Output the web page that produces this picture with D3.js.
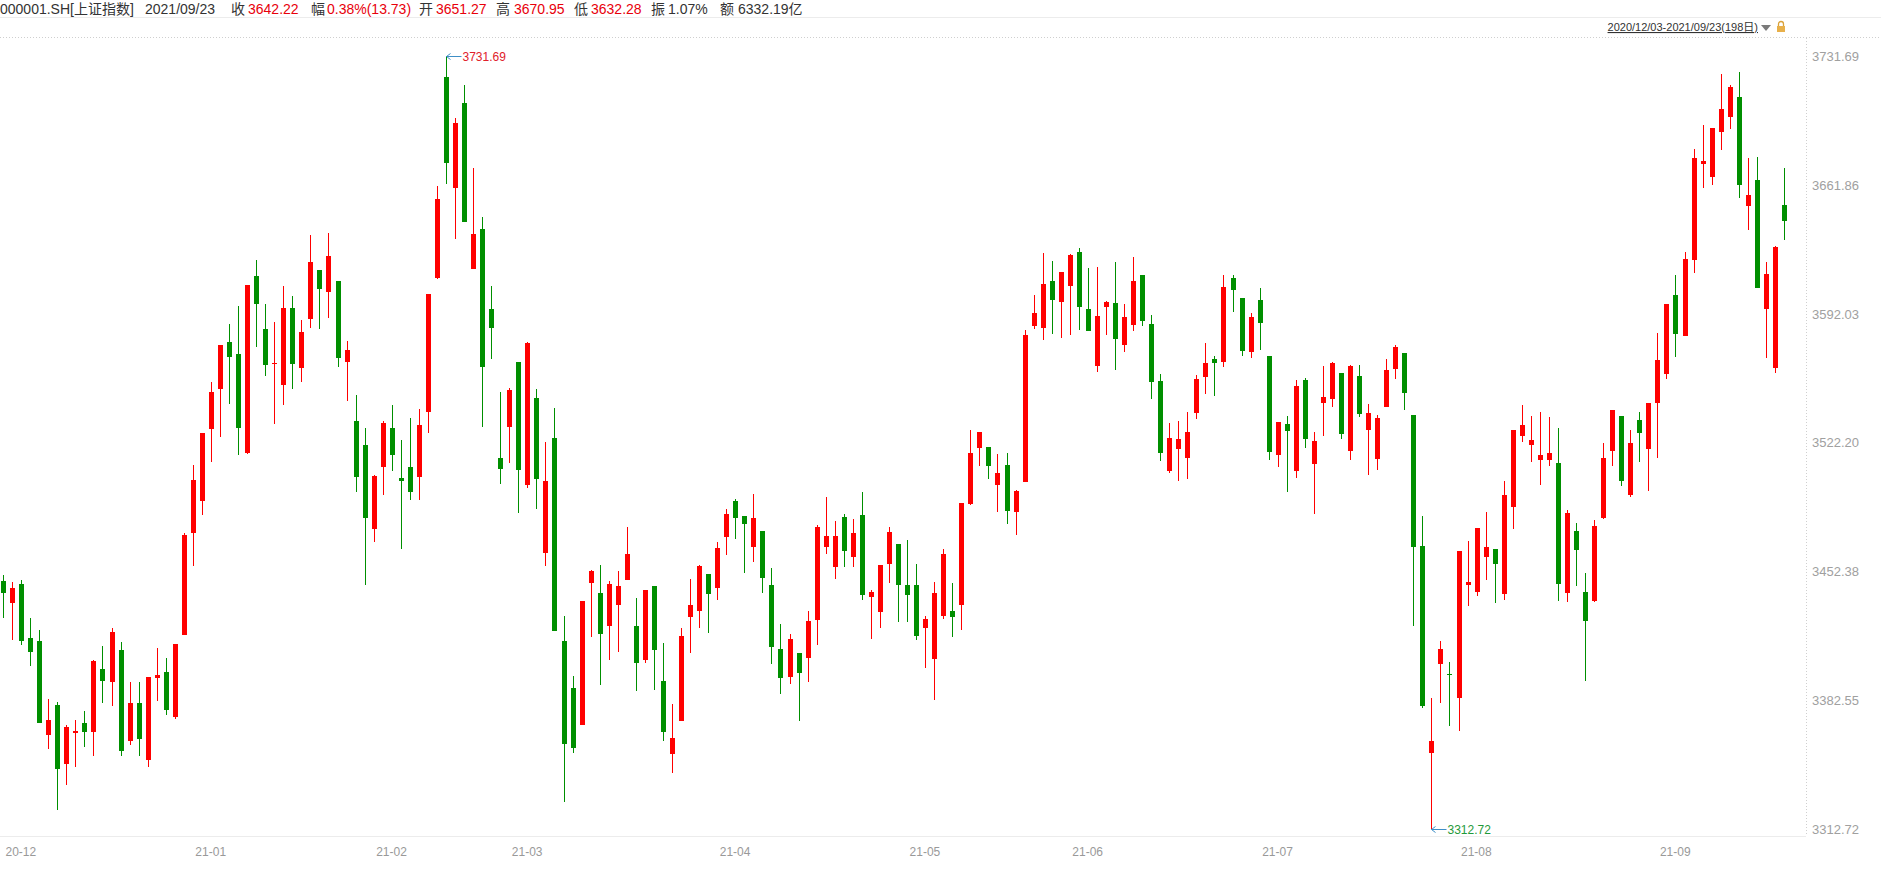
<!DOCTYPE html>
<html>
<head>
<meta charset="utf-8">
<script src="https://cdn.jsdelivr.net/npm/d3@7"></script>
<style>
  html, body { margin: 0; padding: 0; background: #fff; }
  svg { display: block; font-family: "Microsoft YaHei", Arial, "Liberation Sans", "Noto Sans CJK SC", sans-serif; }
</style>
</head>
<body>
<svg id="chart" width="1881" height="870"></svg>
<script>
// daily candles 2020/12/03 - 2021/09/23, 000001.SH
const opens = [
  3447.2, 3435.5, 3445.6, 3416.3, 3414.7, 3363.9, 3380.0, 3348.2, 3365.0, 3370.2,
  3365.5, 3399.5, 3392.6, 3409.8, 3360.6, 3381.0, 3350.3, 3394.8, 3397.9, 3373.6,
  3418.1, 3473.4, 3490.8, 3529.6, 3551.3, 3576.8, 3570.3, 3516.8, 3612.6, 3583.9,
  3565.3, 3553.7, 3595.2, 3562.9, 3589.5, 3615.9, 3604.1, 3609.9, 3566.1, 3534.0,
  3521.0, 3475.6, 3509.2, 3530.2, 3502.9, 3508.9, 3503.7, 3538.9, 3611.6, 3720.6,
  3660.3, 3706.5, 3616.5, 3638.2, 3594.9, 3513.8, 3530.8, 3566.2, 3499.5, 3546.2,
  3462.5, 3524.5, 3414.8, 3389.2, 3368.9, 3446.3, 3440.7, 3423.0, 3434.2, 3447.8,
  3422.8, 3404.4, 3444.5, 3393.0, 3353.4, 3371.5, 3427.7, 3430.9, 3451.0, 3443.4,
  3471.1, 3490.6, 3482.5, 3465.6, 3474.3, 3445.1, 3410.3, 3395.2, 3408.2, 3405.6,
  3426.2, 3465.8, 3455.0, 3481.9, 3460.4, 3483.0, 3438.7, 3430.6, 3456.6, 3467.3,
  3445.1, 3445.1, 3421.9, 3405.1, 3428.4, 3430.9, 3434.4, 3489.0, 3519.5, 3519.9,
  3499.3, 3510.1, 3484.8, 3501.1, 3585.7, 3584.6, 3609.9, 3598.5, 3607.2, 3625.6,
  3594.7, 3563.8, 3595.8, 3598.0, 3575.2, 3586.0, 3613.2, 3586.6, 3555.7, 3507.0,
  3518.9, 3514.1, 3538.5, 3557.8, 3567.6, 3566.1, 3611.5, 3600.7, 3571.6, 3599.6,
  3569.2, 3515.7, 3532.3, 3507.0, 3556.2, 3510.8, 3543.9, 3546.1, 3560.0, 3517.9,
  3558.4, 3529.3, 3513.5, 3541.7, 3562.4, 3570.85, 3537.2, 3466.2, 3354.1, 3402.4,
  3396.8, 3383.9, 3445.2, 3441.4, 3460.4, 3464.6, 3440.3, 3487.5, 3526.0, 3521.0,
  3512.8, 3512.8, 3511.2, 3440.9, 3474.3, 3441.2, 3436.2, 3481.6, 3517.6, 3536.9,
  3493.6, 3534.6, 3518.7, 3543.5, 3559.3, 3602.4, 3579.8, 3621.1, 3673.1, 3666.4,
  3690.9, 3698.9, 3709.5, 3650.7, 3664.8, 3594.5, 3562.6, 3651.27
];
const highs = [
  3450.5, 3446.7, 3447.8, 3427.2, 3420.6, 3383.2, 3381.6, 3369.1, 3371.8, 3376.7,
  3404.4, 3412.0, 3421.5, 3414.1, 3392.4, 3392.4, 3395.2, 3410.9, 3405.5, 3413.0,
  3473.2, 3510.1, 3527.6, 3555.1, 3575.2, 3586.6, 3596.3, 3607.7, 3621.3, 3597.4,
  3587.7, 3607.2, 3601.8, 3588.7, 3634.8, 3615.9, 3635.9, 3609.9, 3577.4, 3548.1,
  3530.2, 3504.7, 3534.0, 3542.7, 3523.5, 3535.5, 3540.7, 3603.0, 3661.6, 3731.69,
  3698.1, 3716.1, 3671.3, 3644.4, 3607.4, 3549.5, 3551.6, 3566.2, 3576.7, 3551.1,
  3522.4, 3541.2, 3428.0, 3395.7, 3436.4, 3453.1, 3455.9, 3447.2, 3452.6, 3476.5,
  3438.0, 3442.3, 3444.5, 3413.6, 3380.5, 3421.7, 3448.3, 3455.9, 3451.0, 3468.4,
  3486.3, 3491.7, 3482.5, 3494.4, 3474.3, 3454.3, 3423.9, 3418.5, 3408.2, 3430.9,
  3477.6, 3492.8, 3479.8, 3483.5, 3480.8, 3495.5, 3442.3, 3455.9, 3476.5, 3467.3,
  3469.5, 3456.4, 3428.4, 3446.7, 3464.6, 3446.1, 3489.5, 3529.1, 3528.0, 3519.9,
  3516.1, 3516.6, 3496.5, 3583.3, 3602.3, 3625.1, 3620.7, 3614.8, 3624.5, 3627.8,
  3617.0, 3617.5, 3599.0, 3620.2, 3597.4, 3622.9, 3613.2, 3591.5, 3559.5, 3532.9,
  3534.0, 3538.9, 3558.9, 3576.3, 3569.2, 3613.1, 3613.1, 3600.7, 3592.5, 3606.1,
  3569.2, 3533.4, 3536.7, 3556.2, 3557.3, 3528.0, 3563.8, 3566.0, 3560.0, 3564.3,
  3564.3, 3543.2, 3537.2, 3567.6, 3575.2, 3570.85, 3537.2, 3482.4, 3383.8, 3414.7,
  3403.3, 3463.5, 3468.9, 3475.9, 3484.6, 3464.6, 3501.4, 3529.1, 3542.6, 3536.7,
  3538.9, 3536.1, 3530.2, 3485.7, 3478.7, 3451.5, 3480.3, 3521.8, 3540.0, 3536.9,
  3529.3, 3538.6, 3543.9, 3581.9, 3597.2, 3613.2, 3625.6, 3681.5, 3694.4, 3692.7,
  3722.2, 3716.1, 3723.2, 3676.6, 3677.2, 3620.2, 3628.9, 3670.95
];
const lows = [
  3427.3, 3415.2, 3412.7, 3401.1, 3370.4, 3356.3, 3323.0, 3336.8, 3346.5, 3357.4,
  3352.5, 3381.2, 3379.6, 3352.5, 3358.5, 3352.5, 3346.5, 3382.3, 3374.7, 3372.6,
  3418.1, 3455.5, 3483.0, 3511.9, 3525.5, 3543.4, 3515.7, 3516.3, 3574.3, 3558.6,
  3532.5, 3542.8, 3551.5, 3555.3, 3584.6, 3583.9, 3590.0, 3563.4, 3545.0, 3495.7,
  3445.2, 3468.6, 3494.0, 3507.0, 3464.8, 3491.4, 3490.9, 3527.4, 3611.1, 3662.7,
  3632.7, 3641.8, 3616.5, 3530.5, 3567.5, 3500.0, 3511.2, 3484.1, 3497.9, 3486.5,
  3455.2, 3420.2, 3327.2, 3353.8, 3368.9, 3416.6, 3391.0, 3404.4, 3408.7, 3447.8,
  3387.6, 3402.7, 3388.1, 3360.4, 3343.1, 3371.5, 3408.2, 3421.7, 3419.0, 3436.9,
  3461.3, 3470.0, 3451.6, 3457.5, 3440.7, 3402.2, 3385.9, 3391.4, 3371.5, 3392.6,
  3412.7, 3462.0, 3448.5, 3455.0, 3455.0, 3437.1, 3415.9, 3421.9, 3446.3, 3425.2,
  3425.2, 3415.4, 3400.2, 3382.9, 3426.8, 3417.0, 3420.8, 3488.4, 3509.8, 3502.7,
  3484.8, 3478.3, 3472.3, 3501.1, 3584.0, 3577.9, 3581.2, 3579.0, 3580.6, 3583.3,
  3582.8, 3560.5, 3580.6, 3561.6, 3571.4, 3582.8, 3585.5, 3546.1, 3512.5, 3506.0,
  3501.6, 3502.7, 3535.2, 3548.8, 3547.7, 3563.4, 3593.3, 3569.4, 3568.3, 3572.5,
  3513.0, 3509.2, 3495.6, 3503.2, 3519.5, 3483.7, 3526.0, 3541.7, 3524.4, 3513.0,
  3536.3, 3504.9, 3507.6, 3541.7, 3556.9, 3540.1, 3423.0, 3378.5, 3312.72, 3381.2,
  3368.8, 3366.0, 3433.8, 3439.2, 3447.9, 3435.4, 3437.1, 3475.6, 3522.8, 3511.9,
  3499.3, 3509.6, 3436.5, 3436.0, 3444.7, 3393.2, 3435.6, 3480.8, 3509.3, 3498.6,
  3492.6, 3512.0, 3495.9, 3514.1, 3557.0, 3568.8, 3579.8, 3614.4, 3660.4, 3661.7,
  3680.9, 3692.3, 3655.0, 3637.8, 3606.3, 3568.4, 3559.9, 3632.28
];
const closes = [
  3440.9, 3443.4, 3414.9, 3408.9, 3370.4, 3371.8, 3345.4, 3368.0, 3365.9, 3365.5,
  3403.8, 3393.2, 3419.6, 3355.2, 3381.0, 3361.7, 3395.2, 3396.2, 3377.4, 3413.0,
  3472.2, 3502.0, 3527.6, 3549.7, 3575.2, 3568.7, 3530.4, 3607.7, 3597.6, 3564.5,
  3565.6, 3595.2, 3565.1, 3582.2, 3620.2, 3605.7, 3623.4, 3568.3, 3572.5, 3503.8,
  3481.6, 3504.1, 3532.9, 3515.7, 3501.3, 3495.6, 3531.6, 3603.0, 3654.6, 3673.9,
  3695.5, 3641.8, 3635.6, 3563.1, 3584.5, 3508.1, 3550.6, 3507.6, 3576.4, 3502.6,
  3501.3, 3420.2, 3358.7, 3356.9, 3436.4, 3452.6, 3418.6, 3445.6, 3444.5, 3461.9,
  3402.7, 3442.3, 3409.8, 3365.5, 3362.1, 3417.4, 3434.2, 3455.3, 3440.2, 3465.1,
  3483.5, 3481.4, 3478.1, 3481.4, 3448.8, 3411.4, 3394.6, 3415.8, 3397.5, 3425.5,
  3476.5, 3471.6, 3471.6, 3463.7, 3473.2, 3439.8, 3441.3, 3455.9, 3473.8, 3445.2,
  3439.8, 3417.6, 3426.6, 3440.7, 3461.9, 3427.9, 3489.5, 3516.6, 3528.0, 3509.8,
  3505.8, 3485.3, 3496.0, 3580.6, 3592.5, 3608.3, 3599.6, 3614.8, 3624.0, 3595.8,
  3582.8, 3590.9, 3598.5, 3578.4, 3590.4, 3609.9, 3588.2, 3555.3, 3516.6, 3524.7,
  3524.2, 3528.0, 3556.7, 3565.4, 3565.4, 3606.6, 3605.0, 3572.1, 3590.4, 3587.3,
  3517.3, 3533.4, 3528.7, 3552.9, 3524.4, 3523.1, 3547.0, 3565.4, 3527.1, 3563.8,
  3538.0, 3538.3, 3535.6, 3561.6, 3574.1, 3549.3, 3465.8, 3379.6, 3360.4, 3410.3,
  3396.0, 3463.5, 3446.7, 3475.9, 3465.6, 3456.6, 3493.8, 3529.1, 3531.8, 3523.7,
  3515.5, 3516.6, 3445.8, 3484.1, 3464.2, 3425.7, 3476.8, 3514.1, 3540.0, 3501.3,
  3521.8, 3527.4, 3543.9, 3566.8, 3597.2, 3580.9, 3621.9, 3676.6, 3674.9, 3692.7,
  3703.1, 3715.1, 3662.1, 3656.3, 3606.3, 3613.8, 3628.3, 3642.22
];

// first trading day of each month and its label
const monthStarts = [0, 21, 41, 56, 79, 100, 118, 139, 161, 183];
const monthLabels = ["20-12", "21-01", "21-02", "21-03", "21-04", "21-05", "21-06", "21-07", "21-08", "21-09"];

const yTickValues = [3731.69, 3661.86, 3592.03, 3522.20, 3452.38, 3382.55, 3312.72];

const headerItems = [
  { text: "000001.SH[上证指数]", x: 0, color: "#333" },
  { text: "2021/09/23", x: 145, color: "#333" },
  { text: "收", x: 231, color: "#333" },
  { text: "3642.22", x: 248, color: "#e8000b" },
  { text: "幅", x: 311, color: "#333" },
  { text: "0.38%(13.73)", x: 327, color: "#e8000b" },
  { text: "开", x: 419, color: "#333" },
  { text: "3651.27", x: 436, color: "#e8000b" },
  { text: "高", x: 496, color: "#333" },
  { text: "3670.95", x: 514, color: "#e8000b" },
  { text: "低", x: 574, color: "#333" },
  { text: "3632.28", x: 591, color: "#e8000b" },
  { text: "振", x: 651, color: "#333" },
  { text: "1.07%", x: 668, color: "#333" },
  { text: "额", x: 720, color: "#333" },
  { text: "6332.19亿", x: 738, color: "#333" }
];
const rangeText = "2020/12/03-2021/09/23(198日)";

const cfg = {
  width: 1881,
  height: 870,
  plotLeft: -1,
  plotRight: 1789,
  plotTop: 56.4,
  plotBottom: 829,
  axisX: 1806,
  bodyWidth: 5,
  up: "#ff0000",
  down: "#008f00"
};

const svg = d3.select("#chart");
const n = closes.length;
const idx = d3.range(n);

const x = d3.scaleBand().domain(idx).range([cfg.plotLeft, cfg.plotRight]);
const y = d3.scaleLinear().domain([d3.min(lows), d3.max(highs)]).range([cfg.plotBottom, cfg.plotTop]);

svg.append("rect").attr("width", cfg.width).attr("height", cfg.height).attr("fill", "#fff");

// header
svg.append("g").selectAll("text")
  .data(headerItems)
  .join("text")
  .attr("x", d => d.x)
  .attr("y", 13.5)
  .attr("font-size", 14)
  .attr("fill", d => d.color)
  .text(d => d.text);

svg.append("line")
  .attr("x1", 0).attr("x2", cfg.width)
  .attr("y1", 17.5).attr("y2", 17.5)
  .attr("stroke", "#ececec");

svg.append("text")
  .attr("x", 1758).attr("y", 31)
  .attr("text-anchor", "end")
  .attr("font-size", 11)
  .attr("fill", "#333")
  .attr("text-decoration", "underline")
  .text(rangeText);

svg.append("path")
  .attr("d", "M1761,25 L1771,25 L1766,31 Z")
  .attr("fill", "#7a7a7a");

// lock icon
const lock = svg.append("g").attr("transform", "translate(1776,21)");
lock.append("path")
  .attr("d", "M2.5,5 V3 a2.5,2.5 0 0 1 5,0 V5")
  .attr("fill", "none").attr("stroke", "#d9a23a").attr("stroke-width", 1.3);
lock.append("rect")
  .attr("x", 1).attr("y", 5).attr("width", 8).attr("height", 6)
  .attr("fill", "#e8b04a");

svg.append("line")
  .attr("x1", 0).attr("x2", cfg.width)
  .attr("y1", 37.5).attr("y2", 37.5)
  .attr("stroke", "#cfcfcf")
  .attr("stroke-dasharray", "1,2");

// frame lines
svg.append("line")
  .attr("x1", 0).attr("x2", cfg.axisX)
  .attr("y1", 836.5).attr("y2", 836.5)
  .attr("stroke", "#ececec");

svg.append("line")
  .attr("x1", cfg.axisX + 0.5).attr("x2", cfg.axisX + 0.5)
  .attr("y1", 38).attr("y2", 836)
  .attr("stroke", "#cfcfcf")
  .attr("stroke-dasharray", "1,2");

// y axis
const yAxis = d3.axisRight(y)
  .tickValues(yTickValues)
  .tickSize(0)
  .tickPadding(0)
  .tickFormat(d => d.toFixed(2));

const gy = svg.append("g")
  .attr("transform", `translate(${cfg.axisX + 6},0)`)
  .call(yAxis);
gy.select(".domain").remove();
gy.selectAll("text")
  .attr("font-size", 13)
  .attr("fill", "#a0a0a0")
  .attr("font-family", null);

// x axis
const xAxis = d3.axisBottom(x)
  .tickValues(monthStarts)
  .tickSize(0)
  .tickPadding(0)
  .tickFormat((d, i) => monthLabels[i]);

const gx = svg.append("g")
  .attr("transform", "translate(0,847)")
  .call(xAxis);
gx.select(".domain").remove();
gx.selectAll("text")
  .attr("text-anchor", "start")
  .attr("dx", 2)
  .attr("font-size", 12)
  .attr("fill", "#999")
  .attr("font-family", null);

// candles
function cx(i) {
  return Math.floor(x(i) + x.bandwidth() / 2) + 0.5;
}
function candleColor(i) {
  return closes[i] >= opens[i] ? cfg.up : cfg.down;
}

const candles = svg.append("g").attr("shape-rendering", "crispEdges");

candles.selectAll("line")
  .data(idx)
  .join("line")
  .attr("x1", cx).attr("x2", cx)
  .attr("y1", i => y(highs[i]))
  .attr("y2", i => y(lows[i]))
  .attr("stroke", candleColor)
  .attr("stroke-width", 1);

candles.selectAll("rect")
  .data(idx)
  .join("rect")
  .attr("x", i => cx(i) - 0.5 - Math.floor(cfg.bodyWidth / 2))
  .attr("width", cfg.bodyWidth)
  .attr("y", i => y(Math.max(opens[i], closes[i])))
  .attr("height", i => Math.max(1, Math.abs(y(opens[i]) - y(closes[i]))))
  .attr("fill", candleColor);

// high / low markers
const hiIdx = d3.maxIndex(highs);
const loIdx = d3.minIndex(lows);

function marker(i, value, color) {
  const px = cx(i);
  const py = Math.round(y(value)) + 0.5;
  const g = svg.append("g");
  g.append("path")
    .attr("d", `M${px},${py} H${px + 15} M${px},${py} l4,-3 M${px},${py} l4,3`)
    .attr("fill", "none")
    .attr("stroke", "#3f8fc6")
    .attr("stroke-width", 1);
  g.append("text")
    .attr("x", px + 16)
    .attr("y", py)
    .attr("dy", "0.35em")
    .attr("font-size", 12)
    .attr("fill", color)
    .text(value.toFixed(2));
}
marker(hiIdx, highs[hiIdx], "#e0202a");
marker(loIdx, lows[loIdx], "#1f9a3a");
</script>
</body>
</html>
